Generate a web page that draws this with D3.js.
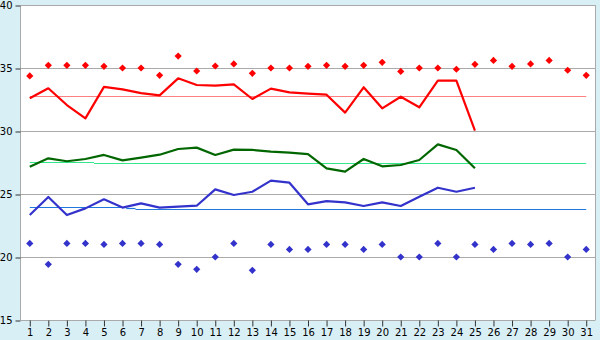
<!DOCTYPE html>
<html>
<head>
<meta charset="utf-8">
<script src="https://cdnjs.cloudflare.com/ajax/libs/d3/7.8.5/d3.min.js"></script>
<style>
  html, body { margin: 0; padding: 0; background: #d9eff6; }
  svg { display: block; }
</style>
</head>
<body>
<svg width="600" height="340"></svg>
<script>
var days = d3.range(1, 32);
var yTicks = [15, 20, 25, 30, 35, 40];

var redLine = [32.6, 33.39, 32.06, 31.0, 33.5, 33.3, 33.0, 32.83, 34.18, 33.65,
               33.6, 33.7, 32.54, 33.36, 33.07, 32.96, 32.88, 31.46, 33.47, 31.8,
               32.72, 31.88, 34.0, 34.0, 30.03];
var greenLine = [27.17, 27.83, 27.6, 27.78, 28.1, 27.67, 27.88, 28.12, 28.57, 28.68,
                 28.1, 28.52, 28.5, 28.36, 28.28, 28.17, 27.04, 26.77, 27.78, 27.2,
                 27.3, 27.7, 28.94, 28.49, 27.04];
var blueLine = [23.33, 24.76, 23.33, 23.86, 24.58, 23.92, 24.26, 23.92, 24.0, 24.07,
                25.37, 24.92, 25.18, 26.06, 25.9, 24.18, 24.44, 24.34, 24.05, 24.34,
                24.05, 24.79, 25.5, 25.18, 25.5];
var redPoints = [34.37, 35.21, 35.21, 35.21, 35.13, 35.0, 35.0, 34.42, 35.95, 34.76,
                 35.16, 35.32, 34.58, 35.0, 35.0, 35.13, 35.21, 35.13, 35.21, 35.45,
                 34.73, 35.0, 35.0, 34.9, 35.29, 35.6, 35.13, 35.32, 35.6, 34.82, 34.42];
var bluePoints = [21.08, 19.42, 21.08, 21.08, 21.0, 21.08, 21.08, 21.0, 19.42, 19.02,
                  20.0, 21.08, 18.94, 21.0, 20.6, 20.6, 21.0, 21.0, 20.6, 21.0,
                  20.0, 20.0, 21.08, 20.0, 21.0, 20.6, 21.08, 21.0, 21.08, 20.0, 20.6];
// average lines: [fromDay, toDay, value]
var redAvg = [[1, 31, 32.78]];
var greenAvg = [[1, 4.46, 27.52], [4.46, 31, 27.44]];
var blueAvg = [[1, 6.2, 23.94], [6.2, 6.7, 23.86], [6.7, 31, 23.81]];

(function () {
  var svg = d3.select("svg");
  var x0 = 20.5, x1 = 595.5, y0 = 5, y1 = 320;

  var x = d3.scaleLinear().domain([0.5, 31.5]).range([x0, x1]);
  var y = d3.scaleLinear().domain([15, 40]).range([y1, y0]);

  svg.append("rect")
     .attr("x", x0)
     .attr("y", y0)
     .attr("width", x1 - x0)
     .attr("height", y1 - y0)
     .style("fill", "white");

  svg.append("g")
     .selectAll("line")
     .data(yTicks.slice(1))
     .join("line")
     .attr("x1", x0)
     .attr("x2", x1)
     .attr("y1", d => Math.round(y(d)) + 0.5)
     .attr("y2", d => Math.round(y(d)) + 0.5)
     .style("stroke", "#aaaaaa");

  // right border
  svg.append("line")
     .attr("x1", x1).attr("x2", x1)
     .attr("y1", y0).attr("y2", y1)
     .style("stroke", "#aaaaaa");

  var yAxis = svg.append("g")
     .attr("transform", "translate(" + x0 + ",0.5)")
     .call(d3.axisLeft(y).tickValues(yTicks).tickSize(5).tickPadding(3).tickFormat(d3.format("d")));
  yAxis.select(".domain").attr("d", "M0," + y0 + "V" + y1).style("stroke", "#aaaaaa");

  var xAxis = svg.append("g")
     .attr("transform", "translate(0," + (y1 + 0.5) + ")")
     .call(d3.axisBottom(x).tickValues(days).tickSize(6).tickPadding(2).tickFormat(d3.format("d")));
  xAxis.select(".domain").attr("d", "M" + x0 + ",0H" + x1).style("stroke", "#aaaaaa");

  svg.selectAll(".tick line").style("stroke", "#333");
  svg.selectAll(".tick text")
     .attr("font-family", "'DejaVu Sans', Verdana, sans-serif")
     .attr("font-size", "10px")
     .attr("fill", "black");

  function avgLines(data, color) {
    svg.append("g")
       .selectAll("line")
       .data(data)
       .join("line")
       .attr("x1", d => x(d[0]))
       .attr("x2", d => x(d[1]))
       .attr("y1", d => Math.round(y(d[2])) + 0.5)
       .attr("y2", d => Math.round(y(d[2])) + 0.5)
       .style("stroke", color)
       .style("stroke-width", 1.2);
  }
  avgLines(redAvg, "#ff8080");
  avgLines(greenAvg, "#33e88a");
  avgLines(blueAvg, "#1f78dc");

  var line = d3.line().x((d, i) => x(i + 1)).y(d => y(d));
  function series(data, color) {
    svg.append("path")
       .datum(data)
       .attr("d", line)
       .style("fill", "none")
       .style("stroke", color)
       .style("stroke-width", 2.2)
       .style("stroke-linejoin", "round");
  }
  series(redLine, "#ff0000");
  series(greenLine, "#006600");
  series(blueLine, "#3333cc");

  var diamond = "M0,-3.6L3.6,0L0,3.6L-3.6,0Z";
  function points(data, color) {
    svg.append("g")
       .selectAll("path")
       .data(data)
       .join("path")
       .attr("transform", (d, i) => "translate(" + x(i + 1) + "," + y(d) + ")")
       .attr("d", diamond)
       .style("fill", color);
  }
  points(redPoints, "#ff0000");
  points(bluePoints, "#3333cc");
})();
</script>
</body>
</html>
